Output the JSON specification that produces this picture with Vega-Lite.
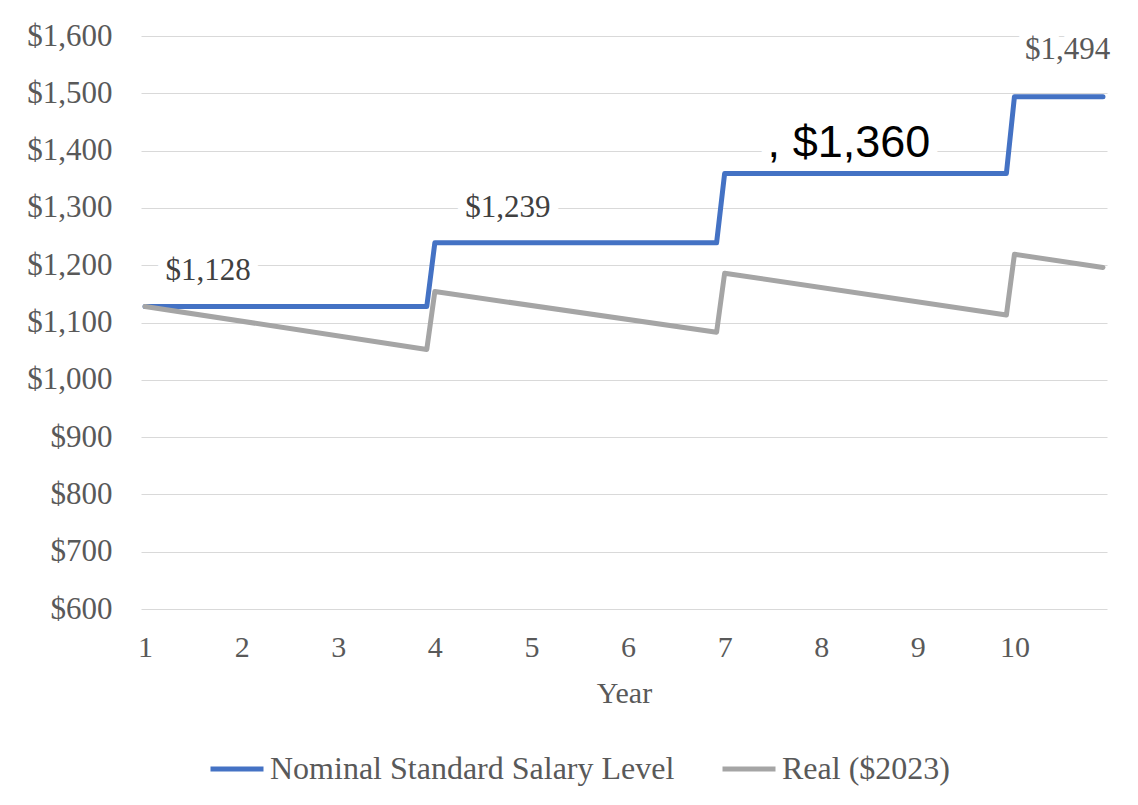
{
  "$schema": "https://vega.github.io/schema/vega-lite/v6.json",
  "width": 966,
  "height": 573,
  "autosize": {"type": "none"},
  "padding": {"left": 141, "top": 36, "right": 31, "bottom": 196},
  "background": "white",
  "config": {
    "view": {"stroke": null},
    "font": "Liberation Serif"
  },
  "datasets": {
    "series": [
      {"year": 1, "value": 1128, "series": "Nominal Standard Salary Level"},
      {"year": 3.9167, "value": 1128, "series": "Nominal Standard Salary Level"},
      {"year": 4, "value": 1239, "series": "Nominal Standard Salary Level"},
      {"year": 6.9167, "value": 1239, "series": "Nominal Standard Salary Level"},
      {"year": 7, "value": 1360, "series": "Nominal Standard Salary Level"},
      {"year": 9.9167, "value": 1360, "series": "Nominal Standard Salary Level"},
      {"year": 10, "value": 1494, "series": "Nominal Standard Salary Level"},
      {"year": 10.9167, "value": 1494, "series": "Nominal Standard Salary Level"},
      {"year": 1, "value": 1128, "series": "Real ($2023)"},
      {"year": 3.9167, "value": 1053, "series": "Real ($2023)"},
      {"year": 4, "value": 1154, "series": "Real ($2023)"},
      {"year": 6.9167, "value": 1083, "series": "Real ($2023)"},
      {"year": 7, "value": 1186, "series": "Real ($2023)"},
      {"year": 9.9167, "value": 1113, "series": "Real ($2023)"},
      {"year": 10, "value": 1219, "series": "Real ($2023)"},
      {"year": 10.9167, "value": 1196, "series": "Real ($2023)"}
    ],
    "labels": [
      {"year": 1.652, "value": 1128, "label": "$1,128", "kind": "a"},
      {"year": 4.757, "value": 1239, "label": "$1,239", "kind": "a"},
      {"year": 8.287, "value": 1360, "label": ", $1,360", "kind": "b"},
      {"year": 10.55, "value": 1494, "label": "$1,494", "kind": "c"}
    ]
  },
  "encoding": {
    "x": {
      "field": "year",
      "type": "quantitative",
      "scale": {"domain": [0.9583, 10.9583], "nice": false, "zero": false},
      "axis": {
        "values": [1, 2, 3, 4, 5, 6, 7, 8, 9, 10],
        "grid": false,
        "ticks": false,
        "domain": false,
        "labelFont": "Liberation Serif",
        "labelFontSize": 30,
        "labelColor": "#595959",
        "labelPadding": 23,
        "labelFlush": false,
        "title": "Year",
        "titleFont": "Liberation Serif",
        "titleFontSize": 30,
        "titleFontWeight": "normal",
        "titleColor": "#595959",
        "titleBaseline": "alphabetic",
        "titleY": 93
      }
    },
    "y": {
      "field": "value",
      "type": "quantitative",
      "scale": {"domain": [600, 1600], "nice": false, "zero": false},
      "axis": {
        "values": [600, 700, 800, 900, 1000, 1100, 1200, 1300, 1400, 1500, 1600],
        "format": "$,.0f",
        "grid": true,
        "gridColor": "#D9D9D9",
        "gridWidth": 1.2,
        "ticks": false,
        "domain": false,
        "labelFont": "Liberation Serif",
        "labelFontSize": 31,
        "labelColor": "#595959",
        "labelPadding": 29,
        "title": null
      }
    }
  },
  "layer": [
    {
      "data": {"name": "labels"},
      "transform": [{"filter": "datum.kind === 'a'"}],
      "mark": {"type": "text", "font": "Liberation Serif", "fontSize": 31, "dy": -26, "baseline": "alphabetic", "align": "center", "stroke": "white", "strokeWidth": 18, "strokeJoin": "round", "fill": "white"},
      "encoding": {"text": {"field": "label"}}
    },
    {
      "data": {"name": "labels"},
      "transform": [{"filter": "datum.kind === 'b'"}],
      "mark": {"type": "text", "font": "Liberation Sans", "fontSize": 45, "dy": -17, "baseline": "alphabetic", "align": "center", "stroke": "white", "strokeWidth": 20, "strokeJoin": "round", "fill": "white"},
      "encoding": {"text": {"field": "label"}}
    },
    {
      "data": {"name": "labels"},
      "transform": [{"filter": "datum.kind === 'c'"}],
      "mark": {"type": "text", "font": "Liberation Serif", "fontSize": 31, "dy": -38, "baseline": "alphabetic", "align": "center", "stroke": "white", "strokeWidth": 18, "strokeJoin": "round", "fill": "white"},
      "encoding": {"text": {"field": "label"}}
    },
    {
      "data": {"name": "series"},
      "mark": {"type": "line", "strokeWidth": 5, "strokeCap": "round", "strokeJoin": "round"},
      "encoding": {
        "color": {
          "field": "series",
          "type": "nominal",
          "scale": {
            "domain": ["Nominal Standard Salary Level", "Real ($2023)"],
            "range": ["#4472C4", "#A5A5A5"]
          },
          "legend": {
            "title": null,
            "orient": "none",
            "direction": "horizontal",
            "legendX": 67,
            "legendY": 704,
            "padding": 0,
            "symbolType": "stroke",
            "symbolSize": 2809,
            "symbolStrokeWidth": 5,
            "labelFont": "Liberation Serif",
            "labelFontSize": 32,
            "labelColor": "#595959",
            "labelOffset": 4,
            "labelLimit": 600,
            "columnPadding": 37
          }
        }
      }
    },
    {
      "data": {"name": "labels"},
      "transform": [{"filter": "datum.kind === 'a'"}],
      "mark": {"type": "text", "font": "Liberation Serif", "fontSize": 31, "dy": -26, "baseline": "alphabetic", "align": "center", "fill": "#404040"},
      "encoding": {"text": {"field": "label"}}
    },
    {
      "data": {"name": "labels"},
      "transform": [{"filter": "datum.kind === 'b'"}],
      "mark": {"type": "text", "font": "Liberation Sans", "fontSize": 45, "dy": -17, "baseline": "alphabetic", "align": "center", "fill": "black"},
      "encoding": {"text": {"field": "label"}}
    },
    {
      "data": {"name": "labels"},
      "transform": [{"filter": "datum.kind === 'c'"}],
      "mark": {"type": "text", "font": "Liberation Serif", "fontSize": 31, "dy": -38, "baseline": "alphabetic", "align": "center", "fill": "#595959"},
      "encoding": {"text": {"field": "label"}}
    }
  ]
}
